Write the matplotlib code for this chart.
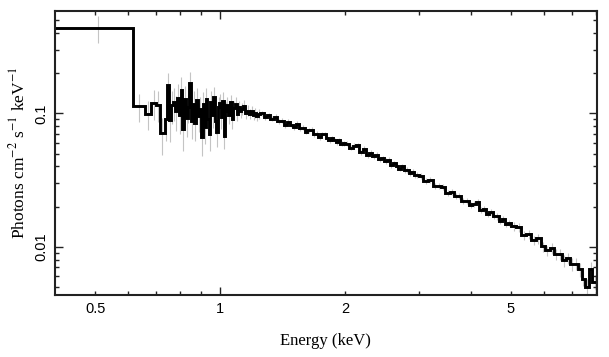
import numpy as np
import matplotlib
matplotlib.use('Agg')
import matplotlib.pyplot as plt

plt.rcParams['mathtext.fontset'] = 'stix'

# Unfolded spectrum: energy bin edges (keV), flux and 1-sigma errors
energy_edges = [
    0.400, 0.617, 0.658, 0.682, 0.700, 0.717, 0.734, 0.742, 0.754,
    0.762, 0.770, 0.778, 0.786, 0.794, 0.802, 0.810, 0.818, 0.826, 0.834,
    0.842, 0.850, 0.858, 0.866, 0.874, 0.882, 0.890, 0.898, 0.906, 0.914,
    0.922, 0.930, 0.938, 0.946, 0.954, 0.962, 0.970, 0.978, 0.986, 0.994,
    1.002, 1.010, 1.018, 1.026, 1.034,
    1.044, 1.054, 1.064, 1.074, 1.084, 1.094, 1.104, 1.114, 1.124,
    1.136, 1.148, 1.160, 1.172, 1.184, 1.196, 1.208, 1.220, 1.232, 1.244,
    1.270, 1.295, 1.320, 1.345, 1.370, 1.395, 1.420, 1.445, 1.470, 1.495,
    1.520, 1.545, 1.570, 1.595, 1.620, 1.645, 1.670, 1.695, 1.720, 1.745,
    1.770, 1.795, 1.820, 1.845, 1.870, 1.895, 1.920, 1.945, 1.970, 2.000,
    2.04, 2.08, 2.12, 2.16, 2.20, 2.24, 2.28, 2.32, 2.36, 2.40, 2.44, 2.48,
    2.52, 2.56, 2.60, 2.64, 2.68, 2.72, 2.76, 2.80, 2.84, 2.88, 2.92, 2.96,
    3.00,
    3.08, 3.16, 3.24, 3.32, 3.40, 3.48, 3.56, 3.64, 3.72, 3.80, 3.88, 3.96,
    4.04, 4.12, 4.20, 4.28, 4.36, 4.44, 4.52, 4.60, 4.68, 4.76, 4.84, 4.92,
    5.00,
    5.15, 5.30, 5.45, 5.60, 5.75, 5.90, 6.05, 6.20, 6.35, 6.50, 6.65, 6.80,
    6.95, 7.10, 7.25, 7.40, 7.55, 7.70, 7.85, 8.10,
]

flux = [
    0.435, 0.113, 0.0995, 0.119, 0.116, 0.0708, 0.090, 0.162,
    0.089, 0.115, 0.121, 0.104, 0.131, 0.098, 0.150, 0.076, 0.128, 0.092,
    0.112, 0.170, 0.088, 0.118, 0.084, 0.126, 0.096, 0.108, 0.066, 0.118,
    0.079, 0.129, 0.091, 0.070, 0.122, 0.098, 0.132, 0.088, 0.072, 0.112,
    0.119, 0.094, 0.124, 0.068, 0.105,
    0.116, 0.097, 0.121, 0.090, 0.110, 0.118, 0.099, 0.112, 0.104,
    0.108, 0.114, 0.101, 0.105, 0.099, 0.104, 0.097, 0.101, 0.096, 0.099,
    0.1002, 0.0933, 0.0970, 0.0914, 0.0941, 0.0870, 0.0880, 0.0821, 0.0864,
    0.0824, 0.0793, 0.0835, 0.0772, 0.0782, 0.0731, 0.0748, 0.0750, 0.0702,
    0.0705, 0.0665, 0.0696, 0.0698, 0.0654, 0.0631, 0.0652, 0.0629, 0.0607,
    0.0628, 0.0594, 0.0596,
    0.0594, 0.0553, 0.0573, 0.0577, 0.0511, 0.0542, 0.0485, 0.0505, 0.0476,
    0.0490, 0.0453, 0.0461, 0.0441, 0.0448, 0.0408, 0.0423, 0.0406, 0.0385,
    0.0401, 0.0377, 0.0377, 0.0355, 0.0365, 0.0343, 0.0346,
    0.0339, 0.0312, 0.0315, 0.0285, 0.0286, 0.0283, 0.0254, 0.0257, 0.0241,
    0.0242, 0.0222, 0.0222, 0.0207, 0.0210, 0.0218, 0.0190, 0.0192, 0.0177,
    0.0182, 0.0170, 0.0169, 0.0157, 0.0162, 0.0149, 0.0151,
    0.01426, 0.01401, 0.01223, 0.01244, 0.01124, 0.01155, 0.01005, 0.00939,
    0.00980, 0.00882, 0.00877, 0.00790, 0.00820, 0.00741, 0.00748, 0.00676,
    0.00576, 0.00503, 0.00683, 0.00543,
]

flux_err = [
    0.100, 0.027, 0.025, 0.030, 0.030, 0.022, 0.028, 0.040,
    0.028, 0.032, 0.033, 0.030, 0.034, 0.028, 0.038, 0.024, 0.032, 0.026,
    0.028, 0.036, 0.024, 0.028, 0.022, 0.028, 0.024, 0.025, 0.018, 0.026,
    0.020, 0.027, 0.021, 0.018, 0.024, 0.020, 0.025, 0.018, 0.016, 0.020,
    0.020, 0.017, 0.020, 0.014, 0.016,
    0.016, 0.014, 0.016, 0.013, 0.014, 0.014, 0.012, 0.012, 0.011,
    0.011, 0.011, 0.010, 0.010, 0.009, 0.009, 0.008, 0.008, 0.008, 0.008,
    0.0045, 0.0043, 0.0044, 0.0042, 0.0042, 0.0040, 0.0040, 0.0038, 0.0039,
    0.0038, 0.0036, 0.0037, 0.0035, 0.0035, 0.0034, 0.0034, 0.0034, 0.0032,
    0.0032, 0.0031, 0.0031, 0.0031, 0.0030, 0.0029, 0.0030, 0.0029, 0.0028,
    0.0029, 0.0028, 0.0028,
    0.0027, 0.0025, 0.0026, 0.0026, 0.0023, 0.0024, 0.0022, 0.0023, 0.0022,
    0.0022, 0.0021, 0.0021, 0.0020, 0.0020, 0.0019, 0.0019, 0.0019, 0.0018,
    0.0018, 0.0017, 0.0017, 0.0017, 0.0017, 0.0016, 0.0016,
    0.0017, 0.0016, 0.0016, 0.0015, 0.0015, 0.0015, 0.0013, 0.0014, 0.0013,
    0.0013, 0.0012, 0.0012, 0.0011, 0.0011, 0.0012, 0.0010, 0.0010, 0.0010,
    0.0010, 0.0009, 0.0009, 0.0009, 0.0009, 0.0009, 0.0009,
    0.0011, 0.0011, 0.0010, 0.0010, 0.0009, 0.0010, 0.0009, 0.0008,
    0.0009, 0.0008, 0.0008, 0.0008, 0.0008, 0.0008, 0.0008, 0.0008,
    0.0007, 0.0007, 0.0008, 0.0007,
]

x_major = [1]
x_minor = [0.5, 0.6, 0.7, 0.8, 0.9, 2, 3, 4, 5, 6, 7, 8]
x_minor_labels = ['0.5', '', '', '', '', '2', '', '', '5', '', '', '']
y_major = [0.01, 0.1]
y_minor = [0.005, 0.006, 0.007, 0.008, 0.009,
           0.02, 0.03, 0.04, 0.05, 0.06, 0.07, 0.08, 0.09,
           0.2, 0.3, 0.4, 0.5]

edges = np.array(energy_edges)
flux = np.array(flux)
flux_err = np.array(flux_err)
centers = 0.5 * (edges[:-1] + edges[1:])

fig = plt.figure(figsize=(6.09, 3.57), dpi=100)
ax = fig.add_axes([0.0903, 0.1737, 0.8897, 0.7953])

ax.errorbar(centers, flux, yerr=flux_err, fmt='none', ecolor='#c4c4c4',
            elinewidth=0.8, zorder=1)
ax.stairs(flux, edges, baseline=None, color='black', linewidth=2.1, zorder=2)

ax.set_xscale('log')
ax.set_yscale('log')
ax.set_xlim(0.4, 8.05)
ax.set_ylim(0.00435, 0.585)

ax.set_xticks(x_major, labels=['1'])
ax.set_xticks(x_minor, labels=x_minor_labels, minor=True)
ax.set_yticks(y_major, labels=['0.01', '0.1'])
ax.set_yticks(y_minor, labels=[''] * len(y_minor), minor=True)

for lab in ax.get_xticklabels(which='both') + ax.get_yticklabels():
    lab.set_family('Liberation Sans')
    lab.set_fontsize(10.5)
for lab in ax.get_yticklabels():
    lab.set_rotation(90)
    lab.set_va('center')

ax.tick_params(which='both', direction='in', top=True, right=True,
               width=1.0, colors='#222222', labelcolor='black')
ax.tick_params(which='major', length=6, pad=5)
ax.tick_params(which='minor', length=3, pad=5)
for sp in ax.spines.values():
    sp.set_linewidth(1.5)
    sp.set_color('#222222')

ax.set_xlabel('Energy (keV)', family='Liberation Serif', fontsize=12, labelpad=12)
ax.set_ylabel(r'Photons cm$^{-2}$ s$^{-1}$ keV$^{-1}$', family='Liberation Serif',
              fontsize=12.5, labelpad=4)

fig.savefig('out.png', dpi=100)
